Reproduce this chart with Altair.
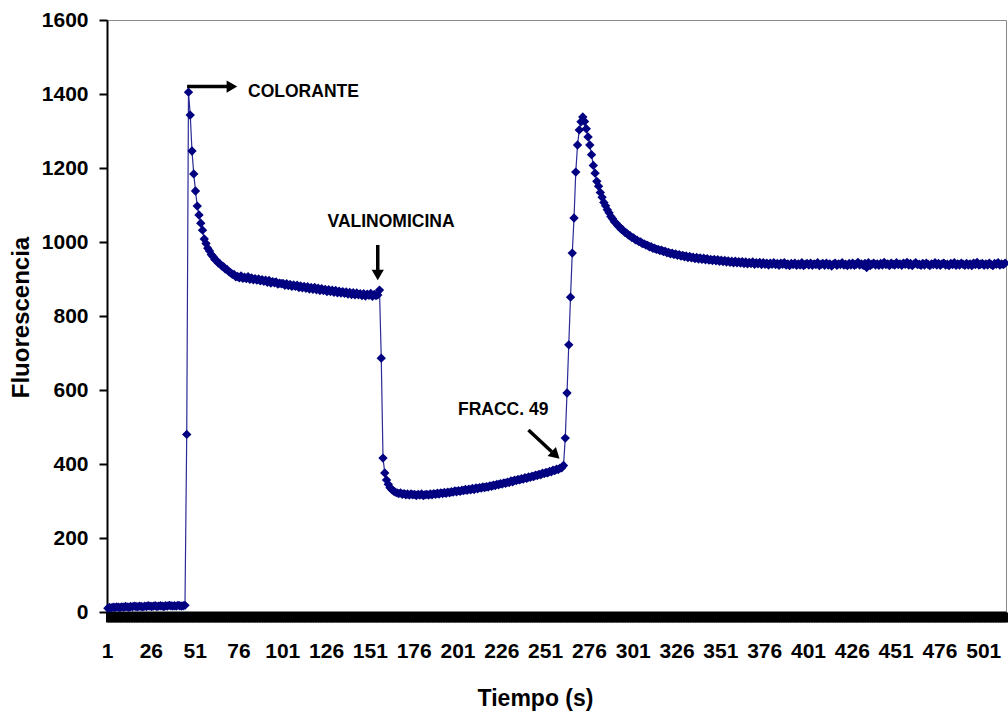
import altair as alt
import pandas as pd

# ---------------- data ----------------
linea_base = [10, 12, 11, 13, 12, 14, 13, 12, 14, 13, 15, 14, 13, 15, 14, 16, 15, 14, 16, 15,
              14, 16, 15, 17, 16, 15, 16, 17, 15, 16, 17, 16, 15, 17, 16, 18, 17, 16, 17, 16,
              18, 17, 16, 17, 18]

colorante = [480, 1405, 1343, 1246, 1184, 1138, 1097, 1073, 1051, 1032, 1008,
             996, 983, 976, 966, 961, 953, 950, 943, 941, 935,
             933, 927, 926, 920, 917, 913, 912, 906, 907, 903,
             908, 902, 905, 901, 906, 899, 903, 898, 901, 897,
             900, 895, 898, 894, 897, 891, 896, 889, 893, 890,
             892, 886, 889, 887, 888, 883, 887, 882, 885, 880,
             884, 880, 883, 877, 881, 876, 880, 875, 879, 873,
             877, 872, 877, 871, 875, 869, 874, 869, 872, 866,
             871, 866, 870, 864, 869, 863, 867, 862, 866, 861,
             865, 859, 864, 858, 863, 857, 862, 857, 860, 855,
             860, 854, 859, 856, 861, 853, 858, 855, 857]

valinomicina = [870, 686, 416, 376, 357, 345, 336, 331, 327, 324,
                322, 320, 322, 318, 320, 317, 319, 316, 319, 317,
                318, 315, 318, 316, 319, 315, 317, 318, 316, 319,
                317, 320, 318, 321, 319, 322, 320, 323, 321, 324,
                322, 325, 324, 327, 325, 328, 326, 329, 328, 331,
                329, 332, 330, 334, 331, 335, 333, 336, 335, 338,
                336, 339, 338, 341, 340, 343, 342, 345, 344, 347,
                346, 349, 348, 351, 350, 354, 352, 356, 355, 358,
                357, 360, 359, 363, 361, 365, 364, 367, 366, 370,
                369, 372, 371, 375, 374, 377, 376, 380, 379, 383,
                382, 386, 385, 389, 390, 396]

fraccion = [470, 592, 722, 851, 970, 1065, 1189, 1262, 1303, 1325,
            1338, 1326, 1306, 1284, 1262, 1236, 1207, 1186, 1164, 1151,
            1134, 1121, 1107, 1098, 1087, 1079, 1069, 1063, 1055, 1051,
            1044, 1041, 1034, 1032, 1026, 1024, 1019, 1017, 1012, 1011,
            1006, 1005, 1001, 1000, 996, 995, 992, 991, 987, 987,
            983, 983, 980, 980, 977, 978, 974, 975, 971, 972,
            968, 970, 966, 968, 964, 966, 962, 964, 960, 962,
            958, 961, 957, 959, 955, 958, 954, 957, 953, 956,
            952, 955, 951, 953, 950, 953, 949, 952, 948, 951,
            947, 950, 946, 949, 945, 948, 944, 948, 944, 947,
            943, 947, 942, 946, 941, 945, 942, 946, 940, 944,
            941, 945, 939, 944, 940, 943, 938, 943, 940, 944,
            939, 942, 937, 943, 940, 944, 938, 941, 936, 942,
            939, 943, 937, 941, 938, 944, 936, 940, 942, 938,
            943, 937, 941, 939, 944, 936, 940, 942, 937, 943,
            938, 941, 935, 940, 943, 937, 941, 939, 944, 938,
            940, 936, 942, 938, 943, 937, 940, 945, 938, 941,
            937, 942, 931, 944, 936, 940, 943, 938, 941, 937,
            942, 938, 945, 939, 941, 936, 943, 940, 938, 944,
            939, 941, 937, 943, 940, 945, 938, 942, 936, 941,
            944, 939, 940, 937, 942, 938, 943, 940, 936, 941,
            939, 944, 938, 942, 937, 941, 943, 938, 940, 936,
            942, 939, 944, 937, 941, 938, 943, 940, 937, 942,
            938, 941, 936, 943, 939, 945, 938, 940, 942, 937,
            941, 938, 943, 939, 936, 942, 940, 944, 938, 941,
            939, 943]

fluorescencia = linea_base + colorante + valinomicina + fraccion
n = len(fluorescencia)
tiempo = list(range(1, n + 1))

y_ticks = [0, 200, 400, 600, 800, 1000, 1200, 1400, 1600]
x_tick_bounds = [i + 0.5 for i in range(0, n + 1)]

# annotations (data coordinates)
ann_text = ["COLORANTE", "VALINOMICINA", "FRACC. 49"]
ann_tx = [81, 162.6, 226.6]
ann_ty = [1406, 1053, 545]

arrow_x1 = [46.2, 155.0, 241.0]
arrow_x2 = [69.6, 155.0, 254.3]
arrow_y1 = [1420, 992, 492]
arrow_y2 = [1420, 924, 433]
head_x = [71.8, 155.0, 256.5]
head_y = [1420, 911, 424]
head_angle = [90, 180, 133]

df = pd.DataFrame({"t": tiempo, "f": fluorescencia})
df_arrow = pd.DataFrame({"t": arrow_x1, "x2": arrow_x2, "f": arrow_y1, "y2": arrow_y2})
df_head = pd.DataFrame({"t": head_x, "f": head_y, "a": head_angle})
df_text_l = pd.DataFrame({"t": ann_tx[:1], "f": ann_ty[:1], "txt": ann_text[:1]})
df_text_c = pd.DataFrame({"t": ann_tx[1:], "f": ann_ty[1:], "txt": ann_text[1:]})

FONT = "Liberation Sans"
NAVY = "#000080"

xscale = alt.Scale(domain=[0.5, n + 0.5], nice=False, zero=False)
yscale = alt.Scale(domain=[0, 1600], nice=False, zero=False)

x_axis = alt.Axis(
    values=x_tick_bounds,
    labelExpr="(datum.value - 0.5) % 25 == 0 ? format(datum.value + 0.5, 'd') : ''",
    labelOverlap=False, labelFlush=False, labelBound=False,
    labelFont=FONT, labelFontSize=21, labelFontWeight="bold", labelColor="black",
    labelPadding=18, labelAngle=0,
    domainColor="black", domainWidth=2,
    tickColor="black", tickWidth=3, tickSize=10, tickRound=False,
    grid=False,
    title="Tiempo (s)", titleFont=FONT, titleFontSize=23, titleFontWeight="bold",
    titleColor="black", titleX=428, titleY=93, titleAlign="center",
    titleBaseline="alphabetic", titleAnchor="start",
)
y_axis = alt.Axis(
    values=y_ticks, format="d",
    labelFont=FONT, labelFontSize=21, labelFontWeight="bold", labelColor="black",
    labelPadding=11,
    domainColor="black", domainWidth=2,
    tickColor="black", tickWidth=2, tickSize=8,
    grid=False,
    title="Fluorescencia", titleFont=FONT, titleFontSize=24, titleFontWeight="bold",
    titleColor="black", titleX=-79, titleY=297, titleAngle=-90, titleAlign="center",
    titleBaseline="alphabetic", titleAnchor="start",
)

X = alt.X("t:Q", scale=xscale, axis=x_axis)
Y = alt.Y("f:Q", scale=yscale, axis=y_axis)

line = alt.Chart(df).mark_line(color="#2a2a98", strokeWidth=1.2).encode(x=X, y=Y)
points = alt.Chart(df).mark_point(shape="diamond", filled=True, size=88, color=NAVY, opacity=1).encode(x=X, y=Y)
arrows = alt.Chart(df_arrow).mark_rule(color="black", strokeWidth=3.5).encode(
    x=X, x2="x2:Q", y=Y, y2="y2:Q",
)
heads = alt.Chart(df_head).mark_point(shape="triangle-up", filled=True, size=150, color="black", opacity=1).encode(
    x=X, y=Y, angle=alt.Angle("a:Q", scale=None),
)
text_l = alt.Chart(df_text_l).mark_text(font=FONT, fontSize=17.5, fontWeight="bold", color="black",
                                        align="left", baseline="middle").encode(x=X, y=Y, text="txt:N")
text_c = alt.Chart(df_text_c).mark_text(font=FONT, fontSize=17.5, fontWeight="bold", color="black",
                                        align="center", baseline="middle").encode(x=X, y=Y, text="txt:N")

chart = alt.layer(line, points, arrows, heads, text_l, text_c).properties(
    width=899,
    height=592,
    padding={"left": 107, "top": 20, "right": 2, "bottom": 103},
    autosize=alt.AutoSizeParams(type="none"),
    background="white",
).configure_view(stroke="#8a8a8a", strokeWidth=1)

chart.save("out.html", embed_options={"renderer": "svg", "actions": False})
